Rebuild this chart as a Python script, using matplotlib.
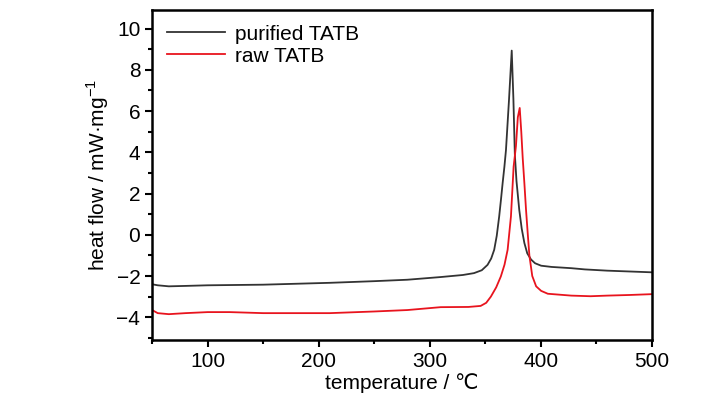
import numpy as np
import matplotlib.pyplot as plt
from matplotlib.ticker import MultipleLocator

plt.rcParams['font.family'] = ['Liberation Sans Narrow', 'Liberation Sans', 'DejaVu Sans']

# purified TATB
t_pur = [50, 55, 65, 80, 100, 150, 210, 250, 280, 310, 330, 340, 347, 352.2,
         355.5, 358.2, 360.5, 362.7, 364.3, 365.8, 367.4, 368.8, 371.5, 374,
         375.5, 376.8, 378.3, 380.8, 383, 385.4, 388, 391.4, 395, 400.5, 410,
         427.6, 440, 460, 480, 500]
hf_pur = [-2.4, -2.45, -2.5, -2.48, -2.45, -2.42, -2.33, -2.25, -2.18, -2.05,
          -1.95, -1.86, -1.72, -1.46, -1.15, -0.73, -0.05, 0.89, 1.7, 2.5,
          3.3, 4.1, 6.5, 8.93, 6.6, 3.9, 2.6, 1.2, 0.3, -0.4, -0.9, -1.2,
          -1.38, -1.5, -1.56, -1.62, -1.68, -1.74, -1.78, -1.82]

# raw TATB
t_raw = [50, 55, 65, 80, 100, 120, 150, 210, 250, 280, 310, 335, 346, 351,
         355.2, 360, 364.2, 367.5, 370.3, 373.3, 375.7, 377.8, 379.5, 381.2,
         382.6, 383.9, 385.4, 386.9, 388.4, 389.9, 392.5, 396, 400.5, 406.5,
         427.6, 445, 460, 480, 500]
hf_raw = [-3.65, -3.8, -3.85, -3.8, -3.75, -3.75, -3.8, -3.8, -3.72, -3.65,
          -3.51, -3.5, -3.45, -3.3, -3.0, -2.55, -2.02, -1.45, -0.73, 0.89,
          3.3, 4.3, 5.7, 6.15, 5.0, 3.72, 2.5, 1.2, 0.08, -1.0, -2.0, -2.5,
          -2.72, -2.86, -2.95, -2.98, -2.95, -2.92, -2.88]

fig = plt.figure(figsize=(7.28, 3.99), dpi=100)
ax = fig.add_axes([0.209, 0.148, 0.686, 0.827])

ax.plot(t_pur, hf_pur, color='#333333', lw=1.3, label='purified TATB')
ax.plot(t_raw, hf_raw, color='#e8141e', lw=1.3, label='raw TATB')

ax.set_xlim(50, 500)
ax.set_ylim(-5.1, 10.9)
ax.xaxis.set_major_locator(MultipleLocator(100))
ax.xaxis.set_minor_locator(MultipleLocator(50))
ax.yaxis.set_major_locator(MultipleLocator(2))
ax.yaxis.set_minor_locator(MultipleLocator(1))
ax.tick_params(which='major', direction='out', length=5, width=1.5, labelsize=15)
ax.tick_params(which='minor', direction='out', length=3, width=1.5)
for s in ax.spines.values():
    s.set_linewidth(1.8)

ax.set_xlabel('temperature / ℃', fontsize=15, labelpad=2)
ax.set_ylabel('heat flow / mW·mg$^{\\mathregular{-1}}$', fontsize=15, labelpad=4)

ax.legend(loc='upper left', frameon=False, fontsize=15, handlelength=2.8,
          handletextpad=0.5, labelspacing=0.15, borderaxespad=0.3)

fig.savefig('out.png', dpi=100)
